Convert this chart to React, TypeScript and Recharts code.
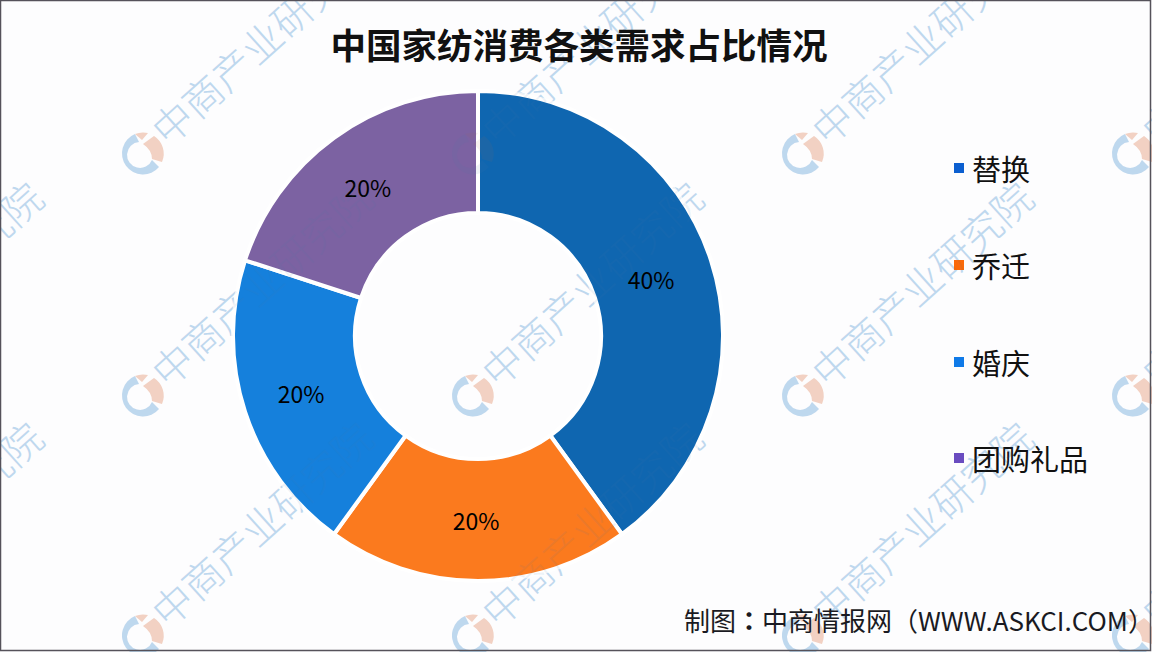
import { Legend, Pie, PieChart } from "recharts";

const categories = ["替换", "乔迁", "婚庆", "团购礼品"];
const shares = [40, 20, 20, 20];
const colors = ["#0f66b0", "#fb7a1e", "#1580dc", "#7c62a2"];
const legendColors = ["#0b5fd0", "#fb6a0a", "#0f7ae8", "#6a4cc0"];

const title = "中国家纺消费各类需求占比情况";
const sourceHead = "制图";
const sourceColon = "：";
const sourceTail = "中商情报网（WWW.ASKCI.COM）";
const watermark = "中商产业研究院";
const watermarkX = [-187, 143, 473, 803, 1133];
const watermarkY = [153, 395, 635];

const FONT = '"Noto Sans CJK SC", "Noto Sans", sans-serif';

const data = categories.map((name, i) => ({ name, value: shares[i], fill: colors[i] }));

function Mark({ x, y, top }: { x: number; y: number; top: boolean }) {
  const blue = top ? "#4a78a8" : "#cbe2f6";
  const orange = top ? "#a06a50" : "#fbdccf";
  return (
    <g transform={`translate(${x} ${y})`} opacity={top ? 0.09 : 1}>
      <path d="M -8 -19 A 21 21 0 1 0 16 14 L 9 7 A 13 13 0 1 1 -4 -11 Z" fill={blue} />
      <path d="M -8 -19 A 21 21 0 0 1 5 -20 L -1 -13 Z" fill={orange} />
      <path d="M 11 -17 A 21 21 0 0 1 19 9 L 9 6 Q 9 -3 0 -9 Z" fill={orange} />
      <text
        transform="translate(16 -16) rotate(-42)"
        x={0}
        y={14}
        fontFamily={FONT}
        fontSize={40}
        fontWeight={300}
        fill={blue}
      >
        {watermark}
      </text>
    </g>
  );
}

function WatermarkLayer({ top }: { top: boolean }) {
  return (
    <svg
      width={1152}
      height={652}
      style={{ position: "absolute", left: 0, top: 0, pointerEvents: "none" }}
    >
      {watermarkY.map((y) =>
        watermarkX.map((x) => <Mark key={`${x}-${y}`} x={x} y={y} top={top} />)
      )}
    </svg>
  );
}

function renderShare(props: any) {
  const radius = (props.innerRadius + props.outerRadius) / 2;
  const angle = (-props.midAngle * Math.PI) / 180;
  return (
    <text
      x={props.cx + radius * Math.cos(angle) - 2}
      y={props.cy + radius * Math.sin(angle)}
      textAnchor="middle"
      dominantBaseline="central"
      fontFamily={FONT}
      fontSize={23}
      fill="#000"
    >
      {props.value}%
    </text>
  );
}

function LegendList() {
  return (
    <div style={{ fontFamily: FONT, fontSize: 29, color: "#111" }}>
      {categories.map((name, i) => (
        <div key={name} style={{ height: 96.7, display: "flex", alignItems: "center" }}>
          <span
            style={{ width: 10, height: 10, marginRight: 8, background: legendColors[i] }}
          />
          {name}
        </div>
      ))}
    </div>
  );
}

export default function App() {
  return (
    <div
      style={{
        position: "absolute",
        left: 0,
        top: 0,
        width: 1152,
        height: 652,
        background: "#fdfdfe",
        overflow: "hidden"
      }}
    >
      <WatermarkLayer top={false} />
      <div style={{ position: "absolute", left: 0, top: 0 }}>
        <PieChart width={1152} height={652} margin={{ top: 0, right: 0, bottom: 0, left: 0 }}>
          <Pie
            data={data}
            dataKey="value"
            nameKey="name"
            cx={478}
            cy={336}
            innerRadius={123}
            outerRadius={245}
            startAngle={90}
            endAngle={-270}
            stroke="#ffffff"
            strokeWidth={4}
            label={renderShare}
            labelLine={false}
            isAnimationActive={false}
          />
          <Legend
            content={<LegendList />}
            wrapperStyle={{ left: 954, top: 120, width: 180, bottom: "auto", right: "auto" }}
          />
        </PieChart>
      </div>
      <WatermarkLayer top />
      <svg
        width={1152}
        height={652}
        style={{ position: "absolute", left: 0, top: 0, pointerEvents: "none" }}
      >
        <text
          x={579}
          y={43}
          textAnchor="middle"
          dominantBaseline="central"
          fontFamily={FONT}
          fontSize={35.5}
          fontWeight={700}
          fill="#111"
        >
          {title}
        </text>
        <text
          x={684}
          y={619}
          dominantBaseline="central"
          fontFamily={FONT}
          fontSize={26}
          fill="#1a1a22"
        >
          {sourceHead}
          <tspan fontFamily='"Noto Sans CJK TC", sans-serif' fontWeight={700}>
            {sourceColon}
          </tspan>
          {sourceTail}
        </text>
        <rect x={0.5} y={0.5} width={1150} height={650} fill="none" stroke="#55525a" strokeWidth={1.5} />
      </svg>
    </div>
  );
}
